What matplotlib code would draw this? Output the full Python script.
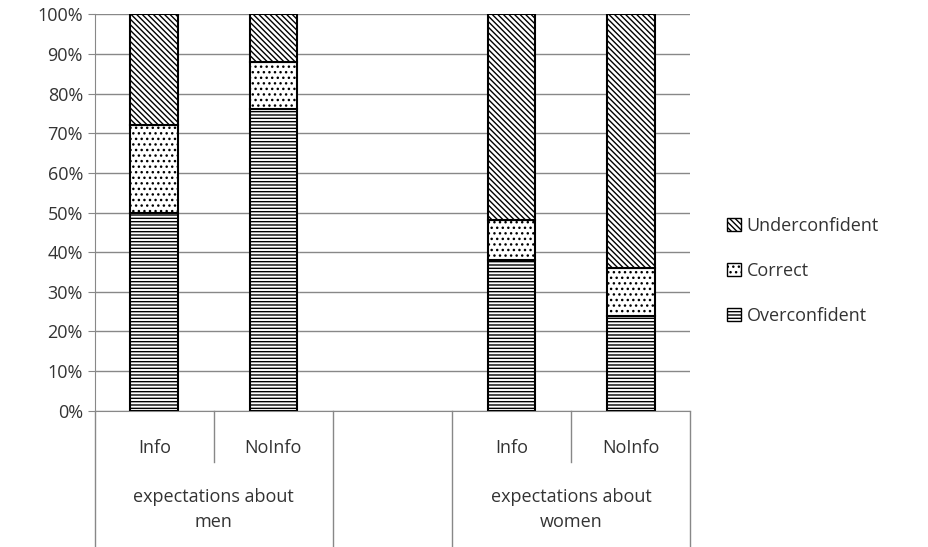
import matplotlib.pyplot as plt
from matplotlib.patches import Patch

plt.rcParams['font.family'] = ['Open Sans', 'DejaVu Sans']
plt.rcParams['hatch.linewidth'] = 1.0

# data
sub_labels = ["Info", "NoInfo", "", "Info", "NoInfo"]
group_labels = ["expectations about\nmen", "expectations about\nwomen"]
overconfident = [50, 76, None, 38, 24]
correct = [22, 12, None, 10, 12]
underconfident = [28, 12, None, 52, 64]

fig = plt.figure(figsize=(9.29, 5.47), dpi=100)
ax = fig.add_axes([0.102, 0.249, 0.641, 0.725])

w = 0.4
for i in range(5):
    if overconfident[i] is None:
        continue
    o, c, u = overconfident[i] / 100, correct[i] / 100, underconfident[i] / 100
    ax.bar(i, o, w, color="white", edgecolor="black", hatch="-----", lw=1.5, zorder=3)
    ax.bar(i, c, w, bottom=o, color="white", edgecolor="black", hatch="...", lw=1.5, zorder=3)
    ax.bar(i, u, w, bottom=o + c, color="white", edgecolor="black", hatch="\\\\\\\\\\\\", lw=1.5, zorder=3)

ax.set_xlim(-0.5, 4.5)
ax.set_ylim(0, 1)
ax.set_yticks([i / 10 for i in range(11)])
ax.set_yticklabels([f"{i*10}%" for i in range(11)], fontsize=13, color="#333333")
ax.yaxis.grid(True, color="#888888", lw=1)
ax.set_axisbelow(True)
for s in ["top", "right"]:
    ax.spines[s].set_visible(False)
ax.spines["left"].set_color("#888888")
ax.spines["bottom"].set_color("#888888")
ax.tick_params(axis="y", length=5, color="#888888")
ax.set_xticks([])

# hierarchical category axis
tr = ax.get_xaxis_transform()
for i, lab in enumerate(sub_labels):
    ax.text(i, -0.095, lab, transform=tr, ha="center", va="center", fontsize=13, color="#333333")
ax.text(0.5, -0.25, group_labels[0], transform=tr, ha="center", va="center", fontsize=13, color="#333333", linespacing=1.5)
ax.text(3.5, -0.25, group_labels[1], transform=tr, ha="center", va="center", fontsize=13, color="#333333", linespacing=1.5)
for x in [-0.5, 1.5, 2.5, 4.5]:
    ax.plot([x, x], [0, -0.345], transform=tr, color="#888888", lw=1, clip_on=False)
for x in [0.5, 3.5]:
    ax.plot([x, x], [0, -0.13], transform=tr, color="#888888", lw=1, clip_on=False)

handles = [
    Patch(facecolor="white", edgecolor="black", hatch="\\\\\\\\\\\\", label="Underconfident"),
    Patch(facecolor="white", edgecolor="black", hatch="...", label="Correct"),
    Patch(facecolor="white", edgecolor="black", hatch="-----", label="Overconfident"),
]
fig.legend(handles=handles, loc="center left", bbox_to_anchor=(0.765, 0.505), frameon=False,
           fontsize=13, handlelength=0.8, handleheight=0.8, handletextpad=0.3, labelspacing=1.5,
           labelcolor="#333333")

fig.savefig("out.png", dpi=100)
